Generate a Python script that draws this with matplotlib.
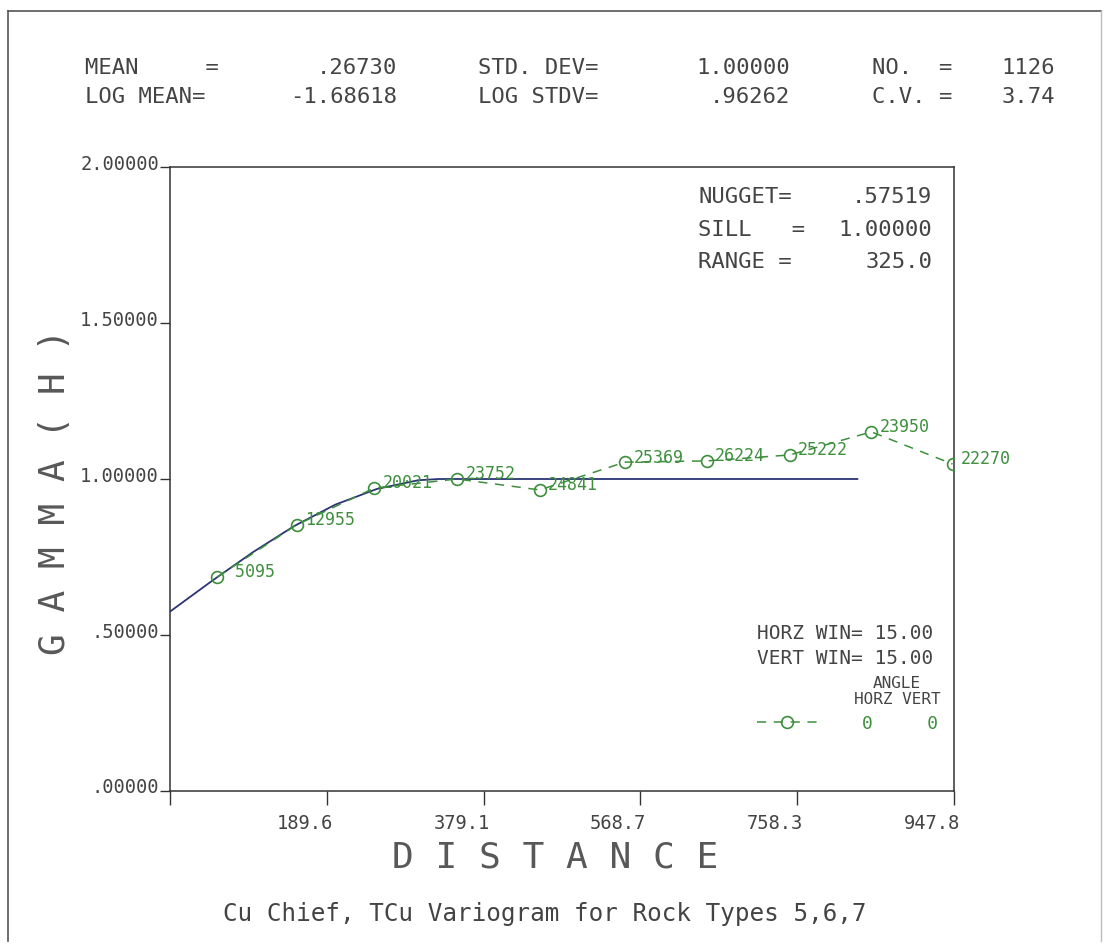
import matplotlib
matplotlib.use("Agg")
from matplotlib import pyplot as plt
from matplotlib.lines import Line2D
from matplotlib.transforms import ScaledTranslation

# experimental variogram points (lag distance, gamma, number of pairs)
lag = [57, 153, 247, 347, 447, 550, 649, 749, 848, 946]
gamma = [0.686, 0.853, 0.971, 1.000, 0.965, 1.054, 1.058, 1.077, 1.151, 1.048]
pairs = [5095, 12955, 20021, 23752, 24841, 25369, 26224, 25222, 23950, 22270]

# fitted spherical model
model_h = [0, 50, 100, 150, 200, 250, 300, 325, 831]
model_g = [0.575, 0.672, 0.765, 0.849, 0.918, 0.968, 0.996, 1.000, 1.000]

x_ticks = [0, 189.56, 379.12, 568.68, 758.24, 947.8]
x_labels = ["", "189.6", "379.1", "568.7", "758.3", "947.8"]
y_ticks = [0, 0.5, 1.0, 1.5, 2.0]
y_labels = [".00000", ".50000", "1.00000", "1.50000", "2.00000"]

stats_left = [("MEAN     =", ".26730"), ("LOG MEAN=", "-1.68618")]
stats_mid = [("STD. DEV=", "1.00000"), ("LOG STDV=", ".96262")]
stats_right = [("NO.  =", "1126"), ("C.V. =", "3.74")]
model_text = [("NUGGET=", ".57519"), ("SILL   =", "1.00000"), ("RANGE =", "325.0")]

FONT = "DejaVu Sans Mono"
TXT = "#444444"
BIG = "#585858"
GREEN = "#3d8f3d"
NAVY = "#2a3474"
W, H = 1104, 945

plt.rcParams["font.family"] = FONT
fig = plt.figure(figsize=(W / 100, H / 100), dpi=100)


def fx(px):
    return px / W


def fy(py):
    return 1 - py / H


# axes box: left 170, right 954, top 168, bottom 792 (pixels)
ax = fig.add_axes([fx(170), fy(792), fx(954) - fx(170), fy(168) - fy(792)])

ax.plot(model_h, model_g, color=NAVY, lw=1.3, zorder=3)
pts, = ax.plot(lag, gamma, color=GREEN, lw=1.1, ls=(0, (6, 5)), marker="o",
               mfc="none", mec=GREEN, mew=1.2, ms=8.5, zorder=4)
for x, y, n in zip(lag, gamma, pairs):
    ax.annotate(f"{n:>5d}", (x, y), xytext=(6, 4), textcoords="offset points",
                color=GREEN, fontsize=12, va="center", ha="left")

ax.set_xlim(0, 947.8)
ax.set_ylim(0, 2)
for s in ax.spines.values():
    s.set_color("#333333")
    s.set_linewidth(1.1)

ax.set_xticks(x_ticks)
ax.set_xticklabels(x_labels, fontsize=13.5, color=TXT)
ax.set_yticks(y_ticks)
ax.set_yticklabels(y_labels, fontsize=13.5, color=TXT)
ax.tick_params(axis="x", direction="out", length=10, width=1, color="#333333", pad=6)
ax.tick_params(axis="y", direction="out", length=7, width=1, color="#333333", pad=1)
for lab in ax.get_xticklabels():
    lab.set_ha("right")
    lab.set_transform(lab.get_transform() + ScaledTranslation(6 / 100, 0, fig.dpi_scale_trans))
for lab in ax.get_yticklabels():
    lab.set_transform(lab.get_transform() + ScaledTranslation(0, 6 / 100, fig.dpi_scale_trans))

# header statistics
for i, (lbl, val) in enumerate(stats_left):
    fig.text(fx(85), fy(68 + 29 * i), lbl, fontsize=16, color=TXT, va="center")
    fig.text(fx(397), fy(68 + 29 * i), val, fontsize=16, color=TXT, va="center", ha="right")
for i, (lbl, val) in enumerate(stats_mid):
    fig.text(fx(478), fy(68 + 29 * i), lbl, fontsize=16, color=TXT, va="center")
    fig.text(fx(790), fy(68 + 29 * i), val, fontsize=16, color=TXT, va="center", ha="right")
for i, (lbl, val) in enumerate(stats_right):
    fig.text(fx(872), fy(68 + 29 * i), lbl, fontsize=16, color=TXT, va="center")
    fig.text(fx(1055), fy(68 + 29 * i), val, fontsize=16, color=TXT, va="center", ha="right")

# model parameters
for i, (lbl, val) in enumerate(model_text):
    fig.text(fx(698), fy(197 + 32.5 * i), lbl, fontsize=16, color=TXT, va="center")
    fig.text(fx(932), fy(197 + 32.5 * i), val, fontsize=16, color=TXT, va="center", ha="right")

# window / angle block
fig.text(fx(757), fy(634), "HORZ WIN= 15.00", fontsize=14, color=TXT, va="center")
fig.text(fx(757), fy(659), "VERT WIN= 15.00", fontsize=14, color=TXT, va="center")
fig.text(fx(897), fy(684), "ANGLE", fontsize=11.5, color=TXT, va="center", ha="center")
fig.text(fx(897), fy(699), "HORZ VERT", fontsize=11.5, color=TXT, va="center", ha="center")
leg = ax.legend([pts], ["0     0"], loc="center left", frameon=False,
                bbox_to_anchor=(fx(757), fy(724)), bbox_transform=fig.transFigure,
                borderpad=0, borderaxespad=0, handlelength=3.3, handletextpad=2.5,
                prop={"family": FONT, "size": 13})
for t in leg.get_texts():
    t.set_color(GREEN)

# axis titles
fig.text(fx(555), fy(858), "D I S T A N C E", fontsize=26, color=BIG,
         ha="center", va="center")
fig.text(fx(55), fy(492), "G A M M A ( H )", fontsize=26, color=BIG,
         ha="center", va="center", rotation=90)
fig.text(fx(545), fy(914), "Cu Chief, TCu Variogram for Rock Types 5,6,7",
         fontsize=17.5, color=TXT, ha="center", va="center")

# page border
fig.add_artist(Line2D([fx(8), fx(8)], [fy(12), fy(942)], color="#555555", lw=1.2))
fig.add_artist(Line2D([fx(8), fx(1101)], [fy(12), fy(12)], color="#555555", lw=1.2))
fig.add_artist(Line2D([fx(1101), fx(1101)], [fy(12), fy(942)], color="#bbbbbb", lw=1))

fig.savefig("out.png", dpi=100)
